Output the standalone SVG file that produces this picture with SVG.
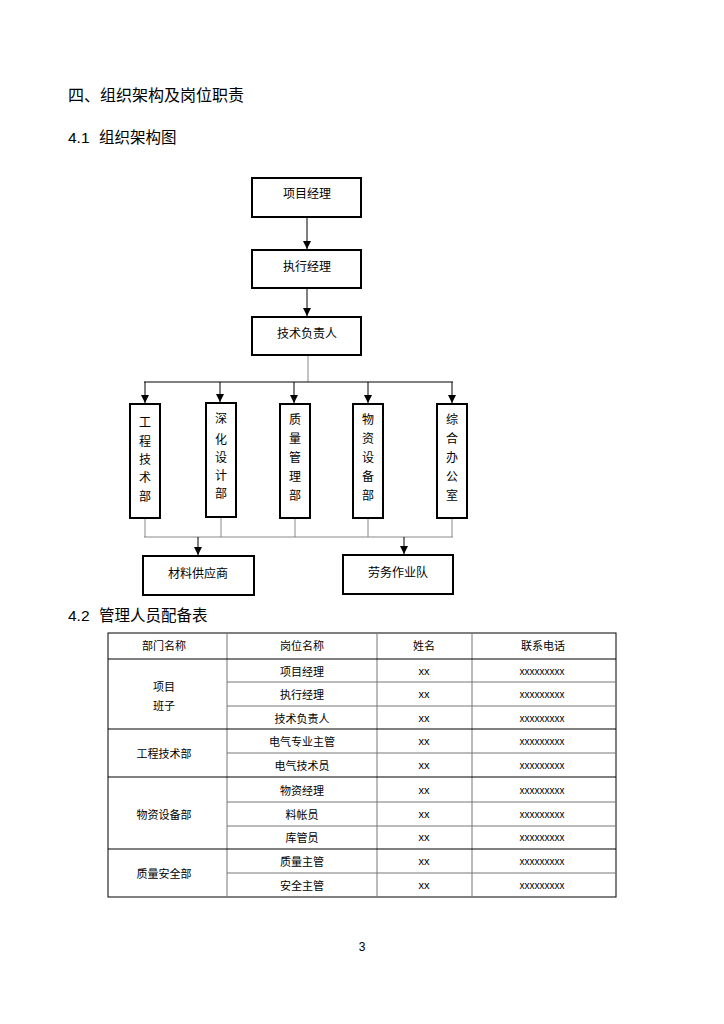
<svg xmlns="http://www.w3.org/2000/svg" width="724" height="1024" viewBox="0 0 724 1024">
<style>
text{font-family:"Liberation Sans","Noto Sans CJK SC",sans-serif;fill:#000}
.h{font-size:16px}
.h2{font-size:15.5px}
.bt{font-size:12px;text-anchor:middle}
.tt{font-size:11px;text-anchor:middle}
.xs{font-size:10px;text-anchor:middle}
.box{fill:#fff;stroke:#000;stroke-width:2}
.ln{stroke:#000;stroke-width:1;fill:none}
.gl{stroke:#888;stroke-width:1;fill:none}
.tb{stroke:#000;stroke-width:1;fill:none}
.tg{stroke:#777;stroke-width:1;fill:none}
</style>
<defs>
<marker id="ar" viewBox="0 0 8 8" refX="8" refY="4" markerWidth="8" markerHeight="8" markerUnits="userSpaceOnUse" orient="auto">
<path d="M0,0 L8,4 L0,8 Z" fill="#000"/>
</marker>
</defs>
<rect width="724" height="1024" fill="#fff"/>
<text class="h" x="68" y="101">四、组织架构及岗位职责</text>
<text class="h2" x="68" y="143">4.1</text>
<text class="h2" x="99" y="143">组织架构图</text>

<g id="connectors">
<line class="ln" x1="307" y1="218" x2="307" y2="249" marker-end="url(#ar)"/>
<line class="ln" x1="307" y1="289" x2="307" y2="316" marker-end="url(#ar)"/>
<line class="gl" x1="308" y1="356" x2="308" y2="382"/>
<line class="ln" x1="144" y1="382" x2="453" y2="382"/>
<line class="ln" x1="145" y1="382" x2="145" y2="403" marker-end="url(#ar)"/>
<line class="ln" x1="220" y1="382" x2="220" y2="402" marker-end="url(#ar)"/>
<line class="ln" x1="294" y1="382" x2="294" y2="403" marker-end="url(#ar)"/>
<line class="ln" x1="368" y1="382" x2="368" y2="403" marker-end="url(#ar)"/>
<line class="ln" x1="452" y1="382" x2="452" y2="403" marker-end="url(#ar)"/>
<line class="gl" x1="145" y1="519" x2="145" y2="537"/>
<line class="gl" x1="221" y1="518" x2="221" y2="537"/>
<line class="gl" x1="295" y1="519" x2="295" y2="537"/>
<line class="gl" x1="368" y1="519" x2="368" y2="537"/>
<line class="gl" x1="452" y1="519" x2="452" y2="537"/>
<line class="gl" x1="144" y1="537" x2="453" y2="537"/>
<line class="ln" x1="198" y1="537" x2="198" y2="555" marker-end="url(#ar)"/>
<line class="ln" x1="404" y1="537" x2="404" y2="554" marker-end="url(#ar)"/>
</g>

<g id="n_pm"><rect class="box" x="252" y="178" width="109" height="39"/><text class="bt" x="307" y="198">项目经理</text></g>
<g id="n_em"><rect class="box" x="252" y="250" width="109" height="38"/><text class="bt" x="307" y="271">执行经理</text></g>
<g id="n_tech"><rect class="box" x="252" y="317" width="109" height="38"/><text class="bt" x="307" y="338">技术负责人</text></g>

<g id="n_gcjs"><rect class="box" x="130" y="404" width="30" height="114"/>
<text class="bt" x="145" y="427">工</text><text class="bt" x="145" y="446">程</text><text class="bt" x="145" y="464">技</text><text class="bt" x="145" y="482">术</text><text class="bt" x="145" y="501">部</text></g>
<g id="n_shsj"><rect class="box" x="206" y="403" width="30" height="114"/>
<text class="bt" x="221" y="423">深</text><text class="bt" x="221" y="444">化</text><text class="bt" x="221" y="462">设</text><text class="bt" x="221" y="480">计</text><text class="bt" x="221" y="498">部</text></g>
<g id="n_zlgl"><rect class="box" x="280" y="404" width="30" height="114"/>
<text class="bt" x="295" y="424">质</text><text class="bt" x="295" y="443">量</text><text class="bt" x="295" y="462">管</text><text class="bt" x="295" y="481">理</text><text class="bt" x="295" y="500">部</text></g>
<g id="n_wzsb"><rect class="box" x="353" y="404" width="30" height="114"/>
<text class="bt" x="368" y="424">物</text><text class="bt" x="368" y="443">资</text><text class="bt" x="368" y="462">设</text><text class="bt" x="368" y="481">备</text><text class="bt" x="368" y="500">部</text></g>
<g id="n_zhbg"><rect class="box" x="437" y="404" width="30" height="114"/>
<text class="bt" x="452" y="424">综</text><text class="bt" x="452" y="443">合</text><text class="bt" x="452" y="462">办</text><text class="bt" x="452" y="481">公</text><text class="bt" x="452" y="500">室</text></g>

<g id="n_clgy"><rect class="box" x="143" y="556" width="111" height="39"/><text class="bt" x="198" y="578">材料供应商</text></g>
<g id="n_lwzy"><rect class="box" x="343" y="555" width="110" height="39"/><text class="bt" x="398" y="577">劳务作业队</text></g>

<text class="h2" x="68" y="621">4.2</text>
<text class="h2" x="99" y="621">管理人员配备表</text>

<g id="table">
<rect class="tb" x="108" y="633" width="508" height="264"/>
<line class="tg" x1="227" y1="633" x2="227" y2="897"/>
<line class="tg" x1="377" y1="633" x2="377" y2="897"/>
<line class="tg" x1="472" y1="633" x2="472" y2="897"/>
<line class="tb" x1="108" y1="659" x2="616" y2="659"/>
<line class="tg" x1="227" y1="682" x2="616" y2="682"/>
<line class="tg" x1="227" y1="706" x2="616" y2="706"/>
<line class="tb" x1="108" y1="729" x2="616" y2="729"/>
<line class="tg" x1="227" y1="753" x2="616" y2="753"/>
<line class="tb" x1="108" y1="777" x2="616" y2="777"/>
<line class="tg" x1="227" y1="802" x2="616" y2="802"/>
<line class="tg" x1="227" y1="826" x2="616" y2="826"/>
<line class="tb" x1="108" y1="849" x2="616" y2="849"/>
<line class="tg" x1="227" y1="873" x2="616" y2="873"/>

<text class="tt" x="164" y="650">部门名称</text>
<text class="tt" x="302" y="650">岗位名称</text>
<text class="tt" x="424" y="650">姓名</text>
<text class="tt" x="543" y="650">联系电话</text>

<text class="tt" x="164" y="691">项目</text>
<text class="tt" x="164" y="710">班子</text>
<text class="tt" x="164" y="758">工程技术部</text>
<text class="tt" x="164" y="819">物资设备部</text>
<text class="tt" x="164" y="878">质量安全部</text>

<text class="tt" x="302" y="676">项目经理</text>
<text class="tt" x="302" y="699">执行经理</text>
<text class="tt" x="302" y="723">技术负责人</text>
<text class="tt" x="302" y="746">电气专业主管</text>
<text class="tt" x="302" y="770">电气技术员</text>
<text class="tt" x="302" y="795">物资经理</text>
<text class="tt" x="302" y="819">料帐员</text>
<text class="tt" x="302" y="842">库管员</text>
<text class="tt" x="302" y="866">质量主管</text>
<text class="tt" x="302" y="890">安全主管</text>

<text class="tt" x="424" y="675">xx</text>
<text class="tt" x="424" y="698">xx</text>
<text class="tt" x="424" y="722">xx</text>
<text class="tt" x="424" y="745">xx</text>
<text class="tt" x="424" y="769">xx</text>
<text class="tt" x="424" y="794">xx</text>
<text class="tt" x="424" y="818">xx</text>
<text class="tt" x="424" y="841">xx</text>
<text class="tt" x="424" y="865">xx</text>
<text class="tt" x="424" y="889">xx</text>
<text class="xs" x="542" y="675">xxxxxxxxx</text>
<text class="xs" x="542" y="698">xxxxxxxxx</text>
<text class="xs" x="542" y="722">xxxxxxxxx</text>
<text class="xs" x="542" y="745">xxxxxxxxx</text>
<text class="xs" x="542" y="769">xxxxxxxxx</text>
<text class="xs" x="542" y="794">xxxxxxxxx</text>
<text class="xs" x="542" y="818">xxxxxxxxx</text>
<text class="xs" x="542" y="841">xxxxxxxxx</text>
<text class="xs" x="542" y="865">xxxxxxxxx</text>
<text class="xs" x="542" y="889">xxxxxxxxx</text>
</g>

<text x="362" y="951" style="font-size:12px;text-anchor:middle">3</text>
</svg>
